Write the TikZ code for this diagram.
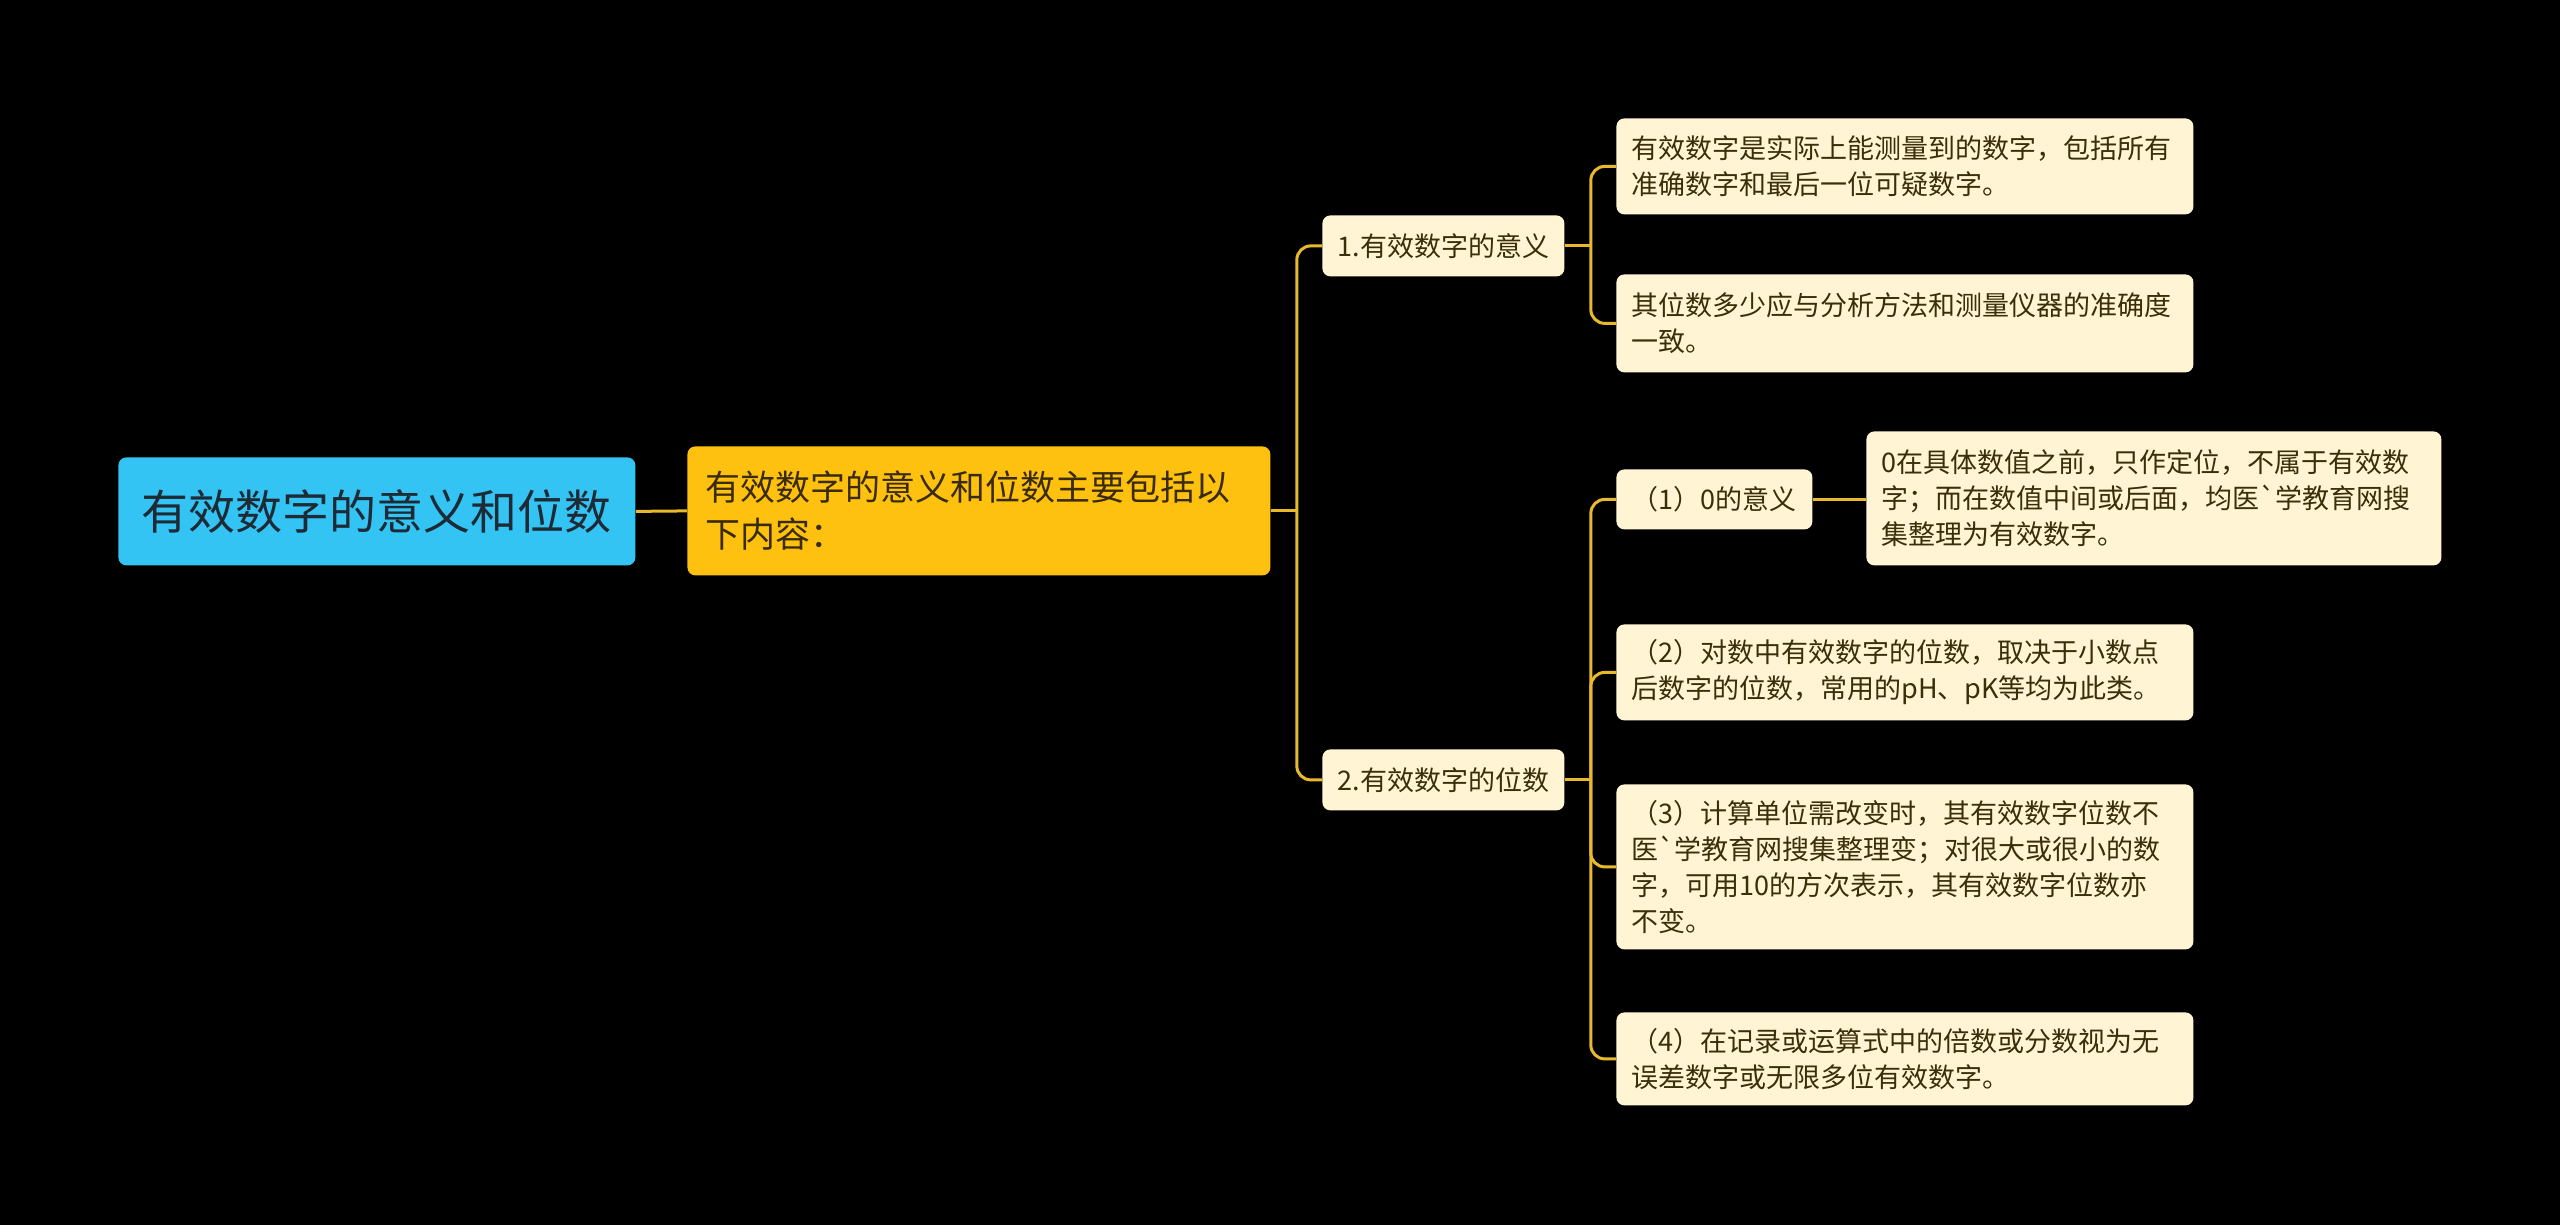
\documentclass[tikz,border=0pt]{standalone}
\usepackage{fontspec}
\setmainfont{Noto Sans CJK SC}[Ligatures=TeXOff]
\usetikzlibrary{calc}
\definecolor{rootblue}{HTML}{33C4F4}
\definecolor{mainamber}{HTML}{FEC10F}
\definecolor{leafcream}{HTML}{FFF4D4}
\definecolor{linegold}{HTML}{E8B92A}
\definecolor{rootink}{HTML}{1E2A35}
\definecolor{mainink}{HTML}{3A2B05}
\definecolor{leafink}{HTML}{3B2F0A}
\tikzset{
  rootbox/.style={fill=rootblue, rounded corners=4pt, anchor=north west, inner sep=0pt,
    minimum width=258.5pt, minimum height=54pt, text=rootink,
    font=\fontsize{23.5}{28}\selectfont, align=center},
  mainbox/.style={fill=mainamber, rounded corners=4pt, anchor=north west, inner xsep=9pt, inner ysep=0pt,
    text width=273.5pt, minimum height=64.5pt, text=mainink,
    font=\fontsize{17.5}{23.5}\selectfont, align=left},
  midbox/.style={fill=leafcream, rounded corners=4pt, anchor=north west, inner sep=0pt,
    minimum width=121pt, minimum height=30.5pt, text=leafink,
    font=\fontsize{13.5}{18}\selectfont, align=center},
  leafbox/.style={fill=leafcream, rounded corners=4pt, anchor=north west, inner xsep=7.5pt, inner ysep=0pt,
    text width=273.5pt, text=leafink,
    font=\fontsize{13.5}{18}\selectfont, align=left},
  conn/.style={draw=linegold, line width=1.5pt},
  bus/.style={draw=linegold, line width=1.5pt, rounded corners=7pt},
}
\begin{document}
\begin{tikzpicture}[x=0.5pt,y=-0.5pt]
\fill[black] (0,0) rectangle (2560,1225);
\useasboundingbox (0,0) rectangle (2560,1225);

\node[rootbox] (root) at (118,457) {有效数字的意义和位数};
\node[mainbox] (main) at (687,446) {有效数字的意义和位数主要包括以\\下内容：};

\node[midbox] (m1) at (1322,215) {1.有效数字的意义};
\node[midbox] (m2) at (1322,749) {2.有效数字的位数};

\node[leafbox, minimum height=48pt] (a1) at (1616,118) {有效数字是实际上能测量到的数字，包括所有\\准确数字和最后一位可疑数字。};
\node[leafbox, minimum height=49pt] (a2) at (1616,274) {其位数多少应与分析方法和测量仪器的准确度\\一致。};

\node[midbox, minimum width=98pt, minimum height=30pt] (b1) at (1616,469) {（1）0的意义};
\node[leafbox, text width=272.5pt, minimum height=67pt] (b1c) at (1866,431) {0在具体数值之前，只作定位，不属于有效数\\字；而在数值中间或后面，均医`学教育网搜\\集整理为有效数字。};
\node[leafbox, minimum height=48pt] (b2) at (1616,624) {（2）对数中有效数字的位数，取决于小数点\\后数字的位数，常用的pH、pK等均为此类。};
\node[leafbox, minimum height=82.5pt] (b3) at (1616,784) {（3）计算单位需改变时，其有效数字位数不\\医`学教育网搜集整理变；对很大或很小的数\\字，可用10的方次表示，其有效数字位数亦\\不变。};
\node[leafbox, minimum height=46.5pt] (b4) at (1616,1012) {（4）在记录或运算式中的倍数或分数视为无\\误差数字或无限多位有效数字。};

% connectors
\draw[conn] (root.east) -- (main.west);

\coordinate (j0) at ($(main.east)+(26,0)$);
\draw[conn] (main.east) -- (j0);
\draw[bus] (j0) |- (m1.west);
\draw[bus] (j0) |- (m2.west);

\coordinate (j1) at ($(m1.east)+(26,0)$);
\draw[conn] (m1.east) -- (j1);
\draw[bus] (j1) |- (a1.west);
\draw[bus] (j1) |- (a2.west);

\coordinate (j2) at ($(m2.east)+(26,0)$);
\draw[conn] (m2.east) -- (j2);
\draw[bus] (j2) |- (b1.west);
\draw[bus] (j2) |- (b2.west);
\draw[bus] (j2) |- (b3.west);
\draw[bus] (j2) |- (b4.west);

\draw[conn] (b1.east) -- (b1c.west |- b1.east);
\end{tikzpicture}
\end{document}
